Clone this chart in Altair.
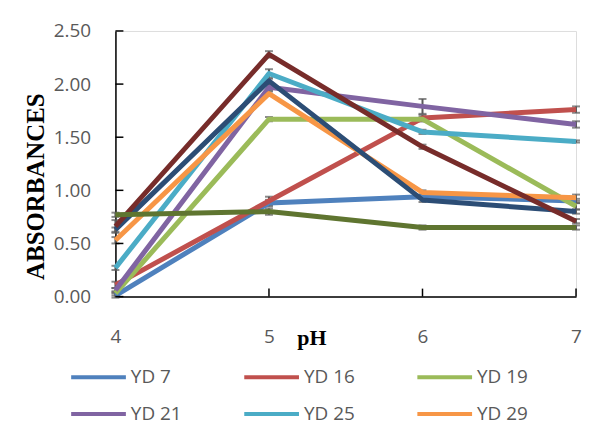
import altair as alt
import pandas as pd

ph = [4, 5, 6, 7]
series = ["YD 7", "YD 16", "YD 19", "YD 21", "YD 25", "YD 29", "Series 7", "Series 8", "Series 9"]
legend_names = ["YD 7", "YD 16", "YD 19", "YD 21", "YD 25", "YD 29"]
colors = ["#4F81BD", "#C0504D", "#9BBB59", "#8064A2", "#4BACC6", "#F79646",
          "#2C4D75", "#772C2A", "#5F7530"]

yd7 = [0.01, 0.88, 0.94, 0.90]
yd16 = [0.11, 0.90, 1.68, 1.76]
yd19 = [0.03, 1.67, 1.67, 0.85]
yd21 = [0.06, 1.97, 1.79, 1.62]
yd25 = [0.27, 2.10, 1.55, 1.46]
yd29 = [0.53, 1.91, 0.98, 0.93]
s7 = [0.63, 2.03, 0.91, 0.80]
s8 = [0.66, 2.28, 1.41, 0.71]
s9 = [0.77, 0.80, 0.65, 0.65]

e7 = [0.02, 0.03, 0.02, 0.02]
e16 = [0.03, 0.04, 0.03, 0.03]
e19 = [0.02, 0.02, 0.02, 0.03]
e21 = [0.02, 0.03, 0.07, 0.03]
e25 = [0.02, 0.04, 0.02, 0.01]
e29 = [0.03, 0.02, 0.02, 0.03]
es7 = [0.02, 0.02, 0.02, 0.02]
es8 = [0.06, 0.03, 0.02, 0.02]
es9 = [0.02, 0.03, 0.02, 0.02]

y_ticks = [0, 0.5, 1.0, 1.5, 2.0, 2.5]
x_ticks = [4, 5, 6, 7]

vals = [yd7, yd16, yd19, yd21, yd25, yd29, s7, s8, s9]
errs = [e7, e16, e19, e21, e25, e29, es7, es8, es9]

rows = []
for i, (name, v, e) in enumerate(zip(series, vals, errs)):
    for p, a, b in zip(ph, v, e):
        rows.append({"ph": p, "abs": a, "lo": a - b, "hi": a + b, "series": name, "order": i})
df = pd.DataFrame(rows)

W, H = 463, 267
xscale = alt.Scale(domain=[4, 7], nice=False, zero=False)
yscale = alt.Scale(domain=[0, 2.5], nice=False)

FONT = "Open Sans"
xax = alt.Axis(values=x_ticks, format="d", ticks=False, grid=False, domainColor="black",
               domainWidth=1.5, labelFont=FONT, labelFontSize=19, labelColor="#595959",
               labelPadding=31, labelFlush=False, title="pH", titleFont="Liberation Serif",
               titleFontWeight="bold", titleFontSize=22, titleColor="black", titleX=197,
               titleY=41, titleAlign="center", titleBaseline="middle")
yax = alt.Axis(values=y_ticks, format=".2f", ticks=False, grid=False, domainColor="black",
               domainWidth=1.5, labelFont=FONT, labelFontSize=19, labelColor="#595959",
               labelPadding=25, labelFlush=False, title="ABSORBANCES",
               titleFont="Liberation Serif", titleFontWeight="bold", titleFontSize=25,
               titleColor="black", titleX=-80, titleY=156, titleAngle=270,
               titleAlign="center", titleBaseline="middle")

X = alt.X("ph:Q", scale=xscale, axis=xax)

err_rule = alt.Chart(df).mark_rule(color="#595959", strokeWidth=2).encode(
    x=X, y=alt.Y("lo:Q", scale=yscale, axis=yax), y2="hi:Q")
cap_lo = alt.Chart(df).mark_tick(color="#595959", orient="horizontal", size=8, thickness=2).encode(
    x=X, y=alt.Y("lo:Q", scale=yscale, axis=yax))
cap_hi = alt.Chart(df).mark_tick(color="#595959", orient="horizontal", size=8, thickness=2).encode(
    x=X, y=alt.Y("hi:Q", scale=yscale, axis=yax))

lines = alt.Chart(df).mark_line(strokeWidth=5, strokeJoin="round").encode(
    x=X,
    y=alt.Y("abs:Q", scale=yscale, axis=yax),
    color=alt.Color("series:N", scale=alt.Scale(domain=series, range=colors),
                    sort=series,
                    legend=alt.Legend(values=legend_names, title=None, orient="none",
                                      legendX=-30, legendY=335, direction="horizontal",
                                      columns=3, symbolType="M-2.5,0H2.5", symbolSize=484,
                                      symbolStrokeWidth=4, labelFont=FONT, labelFontSize=19,
                                      labelColor="#595959", labelOffset=19.5,
                                      columnPadding=54, rowPadding=14)),
    detail="series:N",
    order=alt.Order("ph:Q"),
)

ytick_df = pd.DataFrame({"v": y_ticks})
xtick_df = pd.DataFrame({"p": x_ticks[1:]})
ytick = alt.Chart(ytick_df).mark_rule(color="black", strokeWidth=1.5).encode(
    y=alt.Y("v:Q", scale=yscale, axis=yax), x=alt.value(0), x2=alt.value(8))
xtick = alt.Chart(xtick_df).mark_rule(color="black", strokeWidth=1.5).encode(
    x=alt.X("p:Q", scale=xscale, axis=xax), y=alt.value(H), y2=alt.value(H - 8))

chart = alt.layer(err_rule, cap_lo, cap_hi, lines, ytick, xtick).properties(
    width=W, height=H,
    autosize=alt.AutoSizeParams(type="none"),
    padding={"left": 108, "top": 22, "right": 6, "bottom": 128},
).configure_view(stroke=None).configure(background="white")

chart.save("out.html", embed_options={"renderer": "svg", "actions": False})
